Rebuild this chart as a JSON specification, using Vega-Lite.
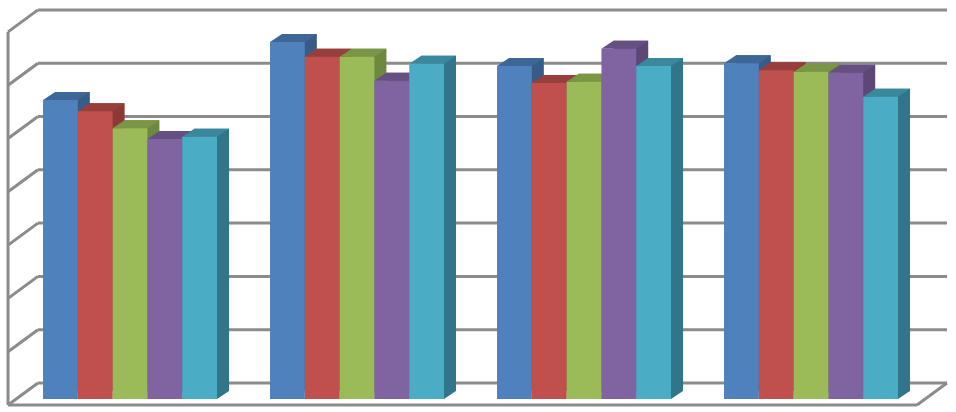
{
  "$schema": "https://vega.github.io/schema/vega-lite/v6.json",
  "width": 956,
  "height": 412,
  "padding": 0,
  "autosize": {"type": "fit", "contains": "padding"},
  "background": "white",
  "config": {"view": {"stroke": null}},
  "datasets": {
    "grid": [
      {"level": 0}, {"level": 10}, {"level": 20}, {"level": 30},
      {"level": 40}, {"level": 50}, {"level": 60}, {"level": 70}
    ],
    "bars": [
      {"group": "A", "series": "S1", "value": 56.1},
      {"group": "A", "series": "S2", "value": 54.0},
      {"group": "A", "series": "S3", "value": 50.8},
      {"group": "A", "series": "S4", "value": 48.8},
      {"group": "A", "series": "S5", "value": 49.2},
      {"group": "B", "series": "S1", "value": 67.0},
      {"group": "B", "series": "S2", "value": 64.2},
      {"group": "B", "series": "S3", "value": 64.2},
      {"group": "B", "series": "S4", "value": 59.7},
      {"group": "B", "series": "S5", "value": 62.9},
      {"group": "C", "series": "S1", "value": 62.5},
      {"group": "C", "series": "S2", "value": 59.3},
      {"group": "C", "series": "S3", "value": 59.5},
      {"group": "C", "series": "S4", "value": 65.7},
      {"group": "C", "series": "S5", "value": 62.5},
      {"group": "D", "series": "S1", "value": 63.0},
      {"group": "D", "series": "S2", "value": 61.7},
      {"group": "D", "series": "S3", "value": 61.4},
      {"group": "D", "series": "S4", "value": 61.2},
      {"group": "D", "series": "S5", "value": 56.7}
    ]
  },
  "layer": [
    {
      "data": {"name": "grid"},
      "mark": {"type": "rule", "color": "#8b8b8b", "strokeWidth": 3, "yOffset": -16, "y2Offset": -16},
      "encoding": {
        "x": {"datum": 3.97, "type": "quantitative", "axis": null, "scale": {"domain": [0, 100], "nice": false, "zero": false}},
        "x2": {"datum": 99.06},
        "y": {"field": "level", "type": "quantitative", "axis": null, "scale": {"domain": [-2.44, 74.86], "nice": false, "zero": false}},
        "y2": {"field": "level"}
      }
    },
    {
      "data": {"name": "grid"},
      "mark": {"type": "rule", "color": "#8b8b8b", "strokeWidth": 3, "yOffset": 6, "y2Offset": -16},
      "encoding": {
        "x": {"datum": 0.84, "type": "quantitative", "axis": null, "scale": {"domain": [0, 100], "nice": false, "zero": false}},
        "x2": {"datum": 3.97},
        "y": {"field": "level", "type": "quantitative", "axis": null, "scale": {"domain": [-2.44, 74.86], "nice": false, "zero": false}},
        "y2": {"field": "level"}
      }
    },
    {
      "data": {"name": "grid"},
      "transform": [{"filter": "datum.level == 0"}],
      "mark": {"type": "rule", "color": "#8b8b8b", "strokeWidth": 3, "yOffset": 6, "y2Offset": -16},
      "encoding": {
        "x": {"datum": 95.92, "type": "quantitative", "axis": null, "scale": {"domain": [0, 100], "nice": false, "zero": false}},
        "x2": {"datum": 99.06},
        "y": {"field": "level", "type": "quantitative", "axis": null, "scale": {"domain": [-2.44, 74.86], "nice": false, "zero": false}},
        "y2": {"field": "level"}
      }
    },
    {
      "data": {"name": "grid"},
      "transform": [{"filter": "datum.level == 0"}],
      "mark": {"type": "rule", "color": "#8b8b8b", "strokeWidth": 3, "yOffset": 6, "y2Offset": 6},
      "encoding": {
        "x": {"datum": 0.84, "type": "quantitative", "axis": null, "scale": {"domain": [0, 100], "nice": false, "zero": false}},
        "x2": {"datum": 95.92},
        "y": {"field": "level", "type": "quantitative", "axis": null, "scale": {"domain": [-2.44, 74.86], "nice": false, "zero": false}},
        "y2": {"field": "level"}
      }
    },
    {
      "data": {"name": "grid"},
      "transform": [{"filter": "datum.level == 0"}],
      "mark": {"type": "rule", "color": "#8b8b8b", "strokeWidth": 3, "yOffset": 6, "y2Offset": 6},
      "encoding": {
        "x": {"datum": 0.84, "type": "quantitative", "axis": null, "scale": {"domain": [0, 100], "nice": false, "zero": false}},
        "y": {"datum": 70, "type": "quantitative", "axis": null, "scale": {"domain": [-2.44, 74.86], "nice": false, "zero": false}},
        "y2": {"datum": 0}
      }
    },
    {
      "data": {"name": "bars"},
      "encoding": {
        "x": {
          "field": "group",
          "type": "nominal",
          "axis": null,
          "scale": {"paddingInner": 0.2335, "paddingOuter": 0.2225, "align": 0.426}
        },
        "y": {
          "field": "value",
          "type": "quantitative",
          "axis": null,
          "scale": {"domain": [-2.44, 74.86], "nice": false, "zero": false}
        }
      },
      "layer": [
        {
          "mark": {"type": "bar", "yOffset": -8, "y2Offset": -8},
          "encoding": {
            "xOffset": {"field": "series", "type": "nominal", "scale": {"range": [12, 186]}},
            "color": {
              "field": "series",
              "type": "nominal",
              "legend": null,
              "scale": {"range": ["#375c88", "#8c3936", "#6f883f", "#5c4776", "#31758a"]}
            }
          }
        },
        {
          "mark": {"type": "point", "filled": true, "opacity": 1, "size": 4, "shape": "M17.4,0L17.4,-8L29.4,-8Z"},
          "encoding": {
            "xOffset": {"field": "series", "type": "nominal"},
            "y": {"datum": 0, "type": "quantitative", "axis": null, "scale": {"domain": [-2.44, 74.86], "nice": false, "zero": false}},
            "color": {
              "field": "series",
              "type": "nominal",
              "legend": null,
              "scale": {"range": ["#375c88", "#8c3936", "#6f883f", "#5c4776", "#31758a"]}
            }
          }
        },
        {
          "mark": {"type": "point", "filled": true, "opacity": 1, "size": 4, "shape": "M-17.4,0L17.4,0L29.4,-8L-5.4,-8Z"},
          "encoding": {
            "xOffset": {"field": "series", "type": "nominal"},
            "color": {
              "field": "series",
              "type": "nominal",
              "legend": null,
              "scale": {"range": ["#3e6797", "#983f3d", "#7b9546", "#664f81", "#3b889c"]}
            }
          }
        },
        {
          "mark": {"type": "bar"},
          "encoding": {
            "xOffset": {"field": "series", "type": "nominal"},
            "color": {
              "field": "series",
              "type": "nominal",
              "legend": null,
              "scale": {"range": ["#4f81bd", "#c0504d", "#9bbb59", "#8064a2", "#4bacc6"]}
            }
          }
        }
      ],
      "resolve": {"scale": {"xOffset": "independent", "color": "independent"}}
    }
  ],
  "resolve": {"scale": {"x": "independent"}}
}
